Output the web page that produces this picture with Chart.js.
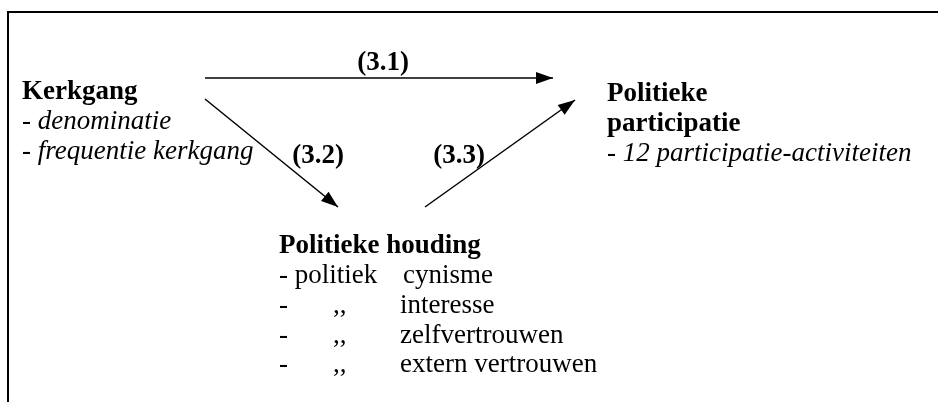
<!DOCTYPE html>
<html>
<head>
<meta charset="utf-8">
<script src="https://cdn.jsdelivr.net/npm/chart.js@4.4.1/dist/chart.umd.min.js"></script>
<style>
  html, body { margin: 0; padding: 0; background: #fff; }
  canvas { display: block; }
</style>
</head>
<body>
<canvas id="diagram" width="938" height="402"></canvas>
<script>
// tekst van de blokken
const kerkgangLines = ['Kerkgang', '- denominatie', '- frequentie kerkgang'];
const participatieLines = ['Politieke', 'participatie', '- 12 participatie-activiteiten'];
const houdingTitle = 'Politieke houding';
const houdingDash = ['- politiek', '-', '-', '-'];
const houdingDitto = ['', ',,', ',,', ',,'];
const houdingItems = ['cynisme', 'interesse', 'zelfvertrouwen', 'extern vertrouwen'];
const pathLabels = ['(3.1)', '(3.2)', '(3.3)'];

// pijlen: begin- en eindpunt (x naar rechts, y naar beneden)
const arrowFrom = [{ x: 205, y: 78 }, { x: 205, y: 99 }, { x: 425, y: 207 }];
const arrowTo = [{ x: 553, y: 78 }, { x: 338, y: 207 }, { x: 575, y: 100 }];

// plaatsing van de tekst
const layout = {
  left: { x: 22, y: [99, 129, 159] },
  right: { x: 607, y: [101, 131, 161] },
  houding: { x: 279, dittoX: 333, itemX: [403, 400, 400, 400], titleY: 253, y: [283, 313, 343, 372] },
  paths: [{ x: 383, y: 70 }, { x: 318, y: 163 }, { x: 459, y: 163 }]
};

const FONT = '"Liberation Serif", "Times New Roman", serif';
const SIZE = '27px ';

const arrowHeads = {
  id: 'arrowHeads',
  afterDatasetsDraw(chart) {
    const { ctx, scales: { x, y } } = chart;
    ctx.save();
    ctx.fillStyle = '#000';
    arrowTo.forEach((end, i) => {
      const start = arrowFrom[i];
      const ex = x.getPixelForValue(end.x), ey = y.getPixelForValue(end.y);
      const sx = x.getPixelForValue(start.x), sy = y.getPixelForValue(start.y);
      const ang = Math.atan2(ey - sy, ex - sx);
      const len = 17, half = 6;
      ctx.beginPath();
      ctx.moveTo(ex, ey);
      ctx.lineTo(ex - len * Math.cos(ang) + half * Math.sin(ang), ey - len * Math.sin(ang) - half * Math.cos(ang));
      ctx.lineTo(ex - len * Math.cos(ang) - half * Math.sin(ang), ey - len * Math.sin(ang) + half * Math.cos(ang));
      ctx.closePath();
      ctx.fill();
    });
    ctx.restore();
  }
};

const diagramText = {
  id: 'diagramText',
  afterDraw(chart) {
    const { ctx, scales: { x, y } } = chart;
    const px = v => x.getPixelForValue(v);
    const py = v => y.getPixelForValue(v);
    ctx.save();
    ctx.fillStyle = '#000';
    ctx.textBaseline = 'alphabetic';

    // kader (alleen links en boven zichtbaar)
    ctx.strokeStyle = '#000';
    ctx.lineWidth = 2;
    ctx.beginPath();
    ctx.moveTo(8, chart.height + 2);
    ctx.lineTo(8, 12);
    ctx.lineTo(chart.width + 2, 12);
    ctx.stroke();

    const block = (lines, pos, boldCount) => {
      lines.forEach((t, i) => {
        ctx.font = (i < boldCount ? 'bold ' : 'italic ') + SIZE + FONT;
        ctx.textAlign = 'left';
        ctx.fillText(t, px(pos.x), py(pos.y[i]));
      });
    };
    block(kerkgangLines, layout.left, 1);
    block(participatieLines, layout.right, 2);

    const h = layout.houding;
    ctx.textAlign = 'left';
    ctx.font = 'bold ' + SIZE + FONT;
    ctx.fillText(houdingTitle, px(h.x), py(h.titleY));
    ctx.font = SIZE + FONT;
    houdingItems.forEach((t, i) => {
      ctx.fillText(houdingDash[i], px(h.x), py(h.y[i]));
      ctx.fillText(houdingDitto[i], px(h.dittoX), py(h.y[i]));
      ctx.fillText(t, px(h.itemX[i]), py(h.y[i]));
    });

    ctx.font = 'bold ' + SIZE + FONT;
    ctx.textAlign = 'center';
    pathLabels.forEach((t, i) => {
      ctx.fillText(t, px(layout.paths[i].x), py(layout.paths[i].y));
    });
    ctx.restore();
  }
};

new Chart(document.getElementById('diagram').getContext('2d'), {
  type: 'scatter',
  data: {
    datasets: arrowFrom.map((start, i) => ({
      label: pathLabels[i],
      data: [start, arrowTo[i]],
      showLine: true,
      borderColor: '#000',
      borderWidth: 1.5,
      pointRadius: 0,
      fill: false
    }))
  },
  options: {
    responsive: false,
    animation: false,
    layout: { padding: 0 },
    plugins: { legend: { display: false }, tooltip: { enabled: false } },
    scales: {
      x: { type: 'linear', min: 0, max: 938, display: false },
      y: { type: 'linear', min: 0, max: 402, reverse: true, display: false }
    }
  },
  plugins: [arrowHeads, diagramText]
});
</script>
</body>
</html>
